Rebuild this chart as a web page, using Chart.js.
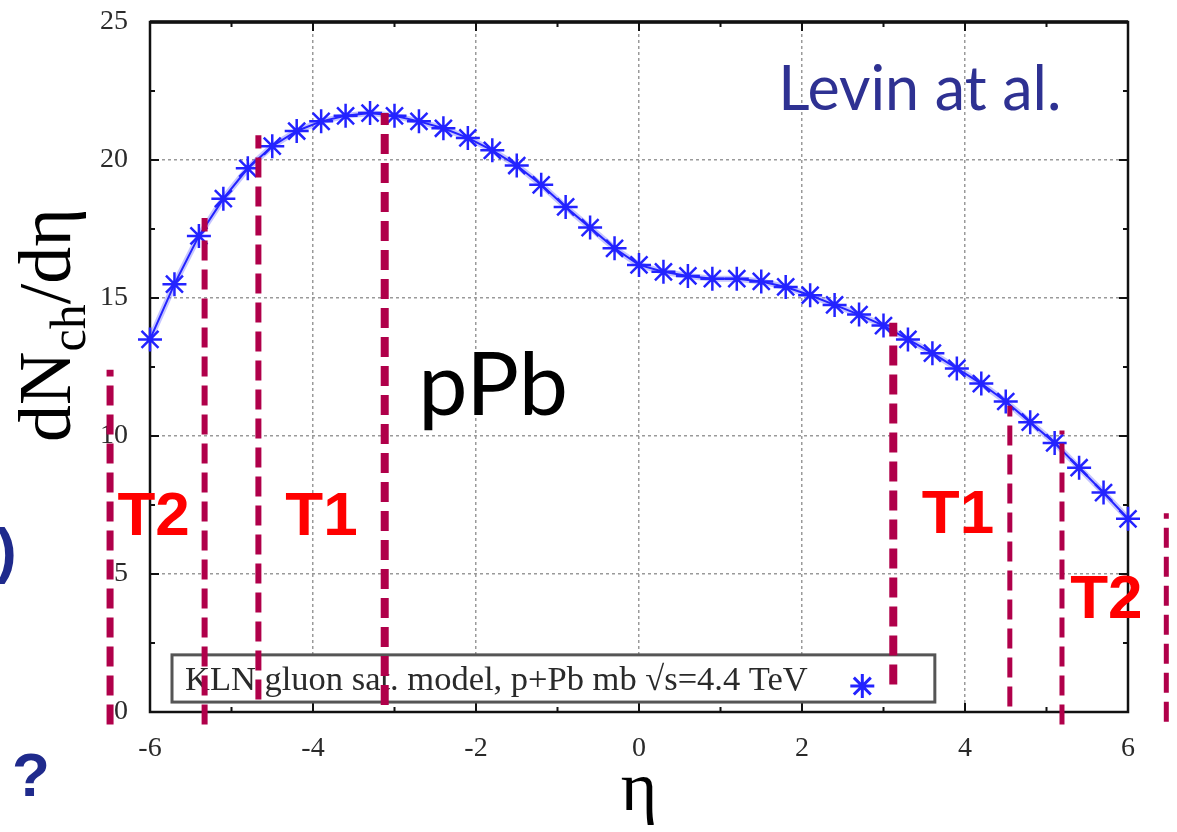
<!DOCTYPE html>
<html>
<head>
<meta charset="utf-8">
<script src="https://cdn.jsdelivr.net/npm/chart.js@4.4.0/dist/chart.umd.min.js"></script>
<style>
  html, body { margin: 0; padding: 0; background: #fff; }
  #wrap { width: 1177px; height: 832px; position: relative; }
</style>
</head>
<body>
<div id="wrap"><canvas id="chart"></canvas></div>
<script>
'use strict';

// KLN curve (eta step 0.3)
const eta = [-6.0, -5.7, -5.4, -5.1, -4.8, -4.5, -4.2, -3.9, -3.6, -3.3, -3.0,
             -2.7, -2.4, -2.1, -1.8, -1.5, -1.2, -0.9, -0.6, -0.3, 0.0,
             0.3, 0.6, 0.9, 1.2, 1.5, 1.8, 2.1, 2.4, 2.7, 3.0,
             3.3, 3.6, 3.9, 4.2, 4.5, 4.8, 5.1, 5.4, 5.7, 6.0];
const dndeta = [13.5, 15.5, 17.25, 18.6, 19.7, 20.5, 21.05, 21.4, 21.6, 21.7, 21.6,
                21.4, 21.15, 20.8, 20.35, 19.8, 19.1, 18.3, 17.55, 16.8, 16.2,
                15.95, 15.8, 15.7, 15.7, 15.6, 15.4, 15.1, 14.75, 14.4, 14.0,
                13.5, 13.0, 12.45, 11.9, 11.25, 10.5, 9.75, 8.85, 7.95, 7.0];

// hand drawn T1 / T2 boundaries
const cutEta = [-6.49, -5.33, -4.67, -3.12, 3.12, 4.55, 5.19, 6.47];
const cutTop = [12.4, 17.9, 20.9, 21.7, 14.1, 11.1, 10.2, 7.2];
const cutBottom = [-0.45, -0.45, 0.45, 0.25, 1.0, 0.2, -0.45, -0.35];

const xTicks = [-6, -4, -2, 0, 2, 4, 6];
const yTicks = [0, 5, 10, 15, 20, 25];
const legendLabel = 'KLN gluon sat. model, p+Pb mb \u221As=4.4 TeV';

// styles
const BLUE = '#2323ff';
const CUT = '#b0004a';
const cutWidths = [7, 6, 6, 8, 8, 5, 5, 5];
const SERIF = '"Liberation Serif", "DejaVu Serif", serif';

const datasets = cutEta.map(function(e, i) {
    return {
        label: 'cut' + i,
        data: [{x: e, y: cutBottom[i]}, {x: e, y: cutTop[i]}],
        borderColor: CUT,
        borderWidth: cutWidths[i],
        borderDash: [20, 9],
        borderCapStyle: 'butt',
        pointRadius: 0,
        clip: false,
        order: 0
    };
});
// soft halo under the curve, like the blurred scan
datasets.push({
    label: 'halo',
    data: eta.map(function(e, i) { return {x: e, y: dndeta[i]}; }),
    borderColor: 'rgba(90, 90, 255, 0.35)',
    borderWidth: 6,
    pointRadius: 0,
    clip: false,
    order: 2
});
datasets.push({
    label: legendLabel,
    data: eta.map(function(e, i) { return {x: e, y: dndeta[i]}; }),
    borderColor: BLUE,
    backgroundColor: BLUE,
    borderWidth: 2,
    pointStyle: 'star',
    pointRadius: 12,
    pointBorderWidth: 2.5,
    pointBorderColor: BLUE,
    clip: false,
    order: 1
});

// frame, inward ticks and legend box under the data
const framePlugin = {
    id: 'frame',
    beforeDatasetsDraw(chart) {
        const ctx = chart.ctx;
        const a = chart.chartArea;
        const xs = chart.scales.x, ys = chart.scales.y;
        ctx.save();
        ctx.strokeStyle = '#111';
        // ticks
        ctx.lineWidth = 2;
        for (let v = -6; v <= 6; v += 1) {
            const px = xs.getPixelForValue(v);
            const len = v % 2 === 0 ? 9 : 5;
            ctx.beginPath();
            ctx.moveTo(px, a.bottom); ctx.lineTo(px, a.bottom - len);
            ctx.moveTo(px, a.top); ctx.lineTo(px, a.top + len);
            ctx.stroke();
        }
        for (let v = 0; v <= 25; v += 2.5) {
            const py = ys.getPixelForValue(v);
            const len = v % 5 === 0 ? 9 : 5;
            ctx.beginPath();
            ctx.moveTo(a.left, py); ctx.lineTo(a.left + len, py);
            ctx.moveTo(a.right, py); ctx.lineTo(a.right - len, py);
            ctx.stroke();
        }
        // border
        ctx.lineWidth = 2.5;
        ctx.strokeRect(a.left, a.top, a.right - a.left, a.bottom - a.top);
        ctx.lineWidth = 3.5;
        ctx.beginPath();
        ctx.moveTo(a.left, a.top); ctx.lineTo(a.right, a.top);
        ctx.stroke();

        // legend box
        const bx0 = xs.getPixelForValue(-5.73), bx1 = xs.getPixelForValue(3.63);
        const by0 = ys.getPixelForValue(2.07), by1 = ys.getPixelForValue(0.36);
        ctx.fillStyle = '#fff';
        ctx.fillRect(bx0, by0, bx1 - bx0, by1 - by0);
        ctx.strokeStyle = '#555';
        ctx.lineWidth = 3;
        ctx.strokeRect(bx0, by0, bx1 - bx0, by1 - by0);
        ctx.fillStyle = '#2a2a2a';
        ctx.font = '34.5px ' + SERIF;
        ctx.textBaseline = 'alphabetic';
        ctx.fillText(legendLabel, bx0 + 13, by1 - 12);
        ctx.strokeStyle = BLUE;
        ctx.fillStyle = BLUE;
        Chart.helpers.drawPoint(ctx, {pointStyle: 'star', radius: 12, borderWidth: 2.5},
            xs.getPixelForValue(2.74), ys.getPixelForValue(0.94));
        ctx.restore();
    }
};

// slide annotations, axis titles
const notesPlugin = {
    id: 'notes',
    afterDatasetsDraw(chart) {
        const ctx = chart.ctx;
        const xs = chart.scales.x, ys = chart.scales.y;
        const put = function(text, ex, vy, font, color) {
            ctx.font = font;
            ctx.fillStyle = color;
            ctx.fillText(text, xs.getPixelForValue(ex), ys.getPixelForValue(vy));
        };
        ctx.save();
        ctx.textBaseline = 'alphabetic';
        ctx.textAlign = 'left';
        put('Levin at al.', 1.71, 21.8, '61px Lato, "Open Sans", sans-serif', '#2e3192');
        put('pPb', -2.71, 10.76, '88px Lato, "Open Sans", sans-serif', '#000');
        const red = 'bold 62px "Liberation Sans", Arial, sans-serif';
        put('T2', -6.40, 6.41, red, '#ff0000');
        put('T1', -4.34, 6.41, red, '#ff0000');
        put('T1', 3.47, 6.49, red, '#ff0000');
        put('T2', 5.29, 3.4, red, '#ff0000');

        // bits of the surrounding slide text
        ctx.fillStyle = '#1f2a8c';
        ctx.font = 'bold 62px "Liberation Sans", Arial, sans-serif';
        ctx.fillText(')', -4, 571);
        ctx.fillText('?', 12, 796);

        // x title
        ctx.fillStyle = '#000';
        ctx.textAlign = 'center';
        ctx.font = '70px ' + SERIF;
        ctx.fillText('\u03b7', xs.getPixelForValue(0), 810);

        // y title with subscript
        ctx.translate(70, 325);
        ctx.rotate(-Math.PI / 2);
        const big = '74px ' + SERIF, small = '50px ' + SERIF;
        ctx.font = big; const w1 = ctx.measureText('dN').width;
        ctx.font = small; const w2 = ctx.measureText('ch').width;
        ctx.font = big; const w3 = ctx.measureText('/d\u03b7').width;
        let x0 = -(w1 + w2 + w3) / 2;
        ctx.textAlign = 'left';
        ctx.font = big; ctx.fillText('dN', x0, 0);
        ctx.font = small; ctx.fillText('ch', x0 + w1, 15);
        ctx.font = big; ctx.fillText('/d\u03b7', x0 + w1 + w2, 0);
        ctx.restore();
    }
};

const tickFont = {family: SERIF, size: 28};

new Chart(document.getElementById('chart'), {
    type: 'line',
    data: {datasets: datasets},
    options: {
        responsive: true,
        maintainAspectRatio: false,
        animation: false,
        layout: {padding: {top: 22, right: 49, left: 0, bottom: 0}},
        plugins: {
            legend: {display: false},
            tooltip: {enabled: false}
        },
        scales: {
            x: {
                type: 'linear',
                min: -6,
                max: 6,
                afterBuildTicks: function(s) { s.ticks = xTicks.map(function(v) { return {value: v}; }); },
                afterFit: function(s) { s.height = 120; s.paddingLeft = 0; s.paddingRight = 0; },
                ticks: {font: tickFont, color: '#2a2a2a', padding: 20, maxRotation: 0},
                grid: {color: '#9a9a9a', lineWidth: 1.5, drawTicks: false},
                border: {display: false, dash: [3, 3]}
            },
            y: {
                type: 'linear',
                min: 0,
                max: 25,
                afterBuildTicks: function(s) { s.ticks = yTicks.map(function(v) { return {value: v}; }); },
                afterFit: function(s) { s.width = 150; s.paddingTop = 0; s.paddingBottom = 0; },
                ticks: {font: tickFont, color: '#2a2a2a', padding: 22},
                grid: {color: '#9a9a9a', lineWidth: 1.5, drawTicks: false},
                border: {display: false, dash: [3, 3]}
            }
        }
    },
    plugins: [framePlugin, notesPlugin]
});
</script>
</body>
</html>
